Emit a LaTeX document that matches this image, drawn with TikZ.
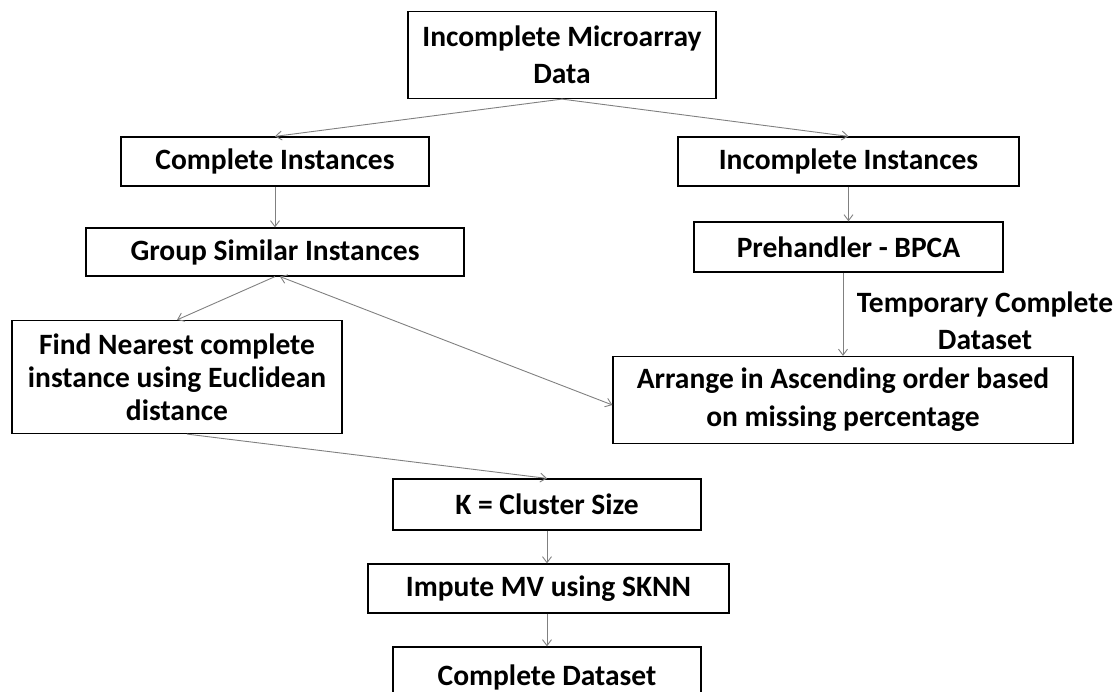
\documentclass[tikz,border=0pt]{standalone}
\usepackage{fontspec}
\setmainfont{Carlito}
\usetikzlibrary{arrows.meta,calc}

\tikzset{
  box/.style={draw=black, line width=1.2pt, fill=white, inner sep=0pt,
    align=center, font=\fontsize{29.5}{37}\selectfont\bfseries},
  tight/.style={font=\fontsize{29.5}{33}\selectfont\bfseries},
  loose/.style={font=\fontsize{29.5}{38}\selectfont\bfseries},
  link/.style={draw=black!50, line width=0.9pt,
    -{Straight Barb[length=6pt,width=9pt]}},
  twoway/.style={link, {Straight Barb[length=6pt,width=9pt]}-{Straight Barb[length=6pt,width=9pt]}},
  note/.style={inner sep=0pt, align=center, font=\fontsize{29.5}{37}\selectfont\bfseries}
}

\begin{document}
\begin{tikzpicture}[x=1pt,y=-1pt]
\useasboundingbox (0,0) rectangle (1120,692);
\clip (0,0) rectangle (1120,692);

% process boxes
\node[box, minimum width=308pt, minimum height=87pt] (raw) at (562,55)
  {Incomplete Microarray\\Data};
\node[box, minimum width=308pt, minimum height=49pt] (comp) at (275,161.5)
  {Complete Instances};
\node[box, minimum width=341pt, minimum height=49pt] (incomp) at (848.5,161.5)
  {Incomplete Instances};
\node[box, minimum width=378pt, minimum height=48pt] (group) at (275,252)
  {Group Similar Instances};
\node[box, minimum width=309pt, minimum height=50pt] (pre) at (848.5,247)
  {Prehandler - BPCA};
\node[box, tight, minimum width=330pt, minimum height=113pt] (near) at (177,377)
  {Find Nearest complete\\instance using Euclidean\\distance};
\node[box, loose, minimum width=460pt, minimum height=87pt] (sort) at (843,400)
  {Arrange in Ascending order based\\on missing percentage};
\node[box, minimum width=308pt, minimum height=51pt] (ksize) at (547,504.5)
  {K = Cluster Size};
\node[box, minimum width=361pt, minimum height=49pt] (impute) at (548.5,588.5)
  {Impute MV using SKNN};
\node[box, minimum width=308pt, minimum height=60pt] (done) at (547,677)
  {Complete Dataset};

% label beside the BPCA output
\node[note] (temp) at (985,321) {Temporary Complete\\Dataset};

% connectors
\draw[link] (raw.south) -- (comp.north);
\draw[link] (raw.south) -- (incomp.north);
\draw[link] (comp.south) -- (group.north);
\draw[link] (incomp.south) -- (pre.north);
\draw[link] (group.south) -- (near.north);
\draw[twoway] ([xshift=5pt]group.south) -- ([yshift=-5pt]sort.west);
\draw[link] (pre.south -| sort.north) -- (sort.north);
\draw[link] ([xshift=10pt]near.south) -- (ksize.north);
\draw[link] (ksize.south) -- (ksize.south |- impute.north);
\draw[link] (impute.south -| done.north) -- (done.north);
\end{tikzpicture}
\end{document}
